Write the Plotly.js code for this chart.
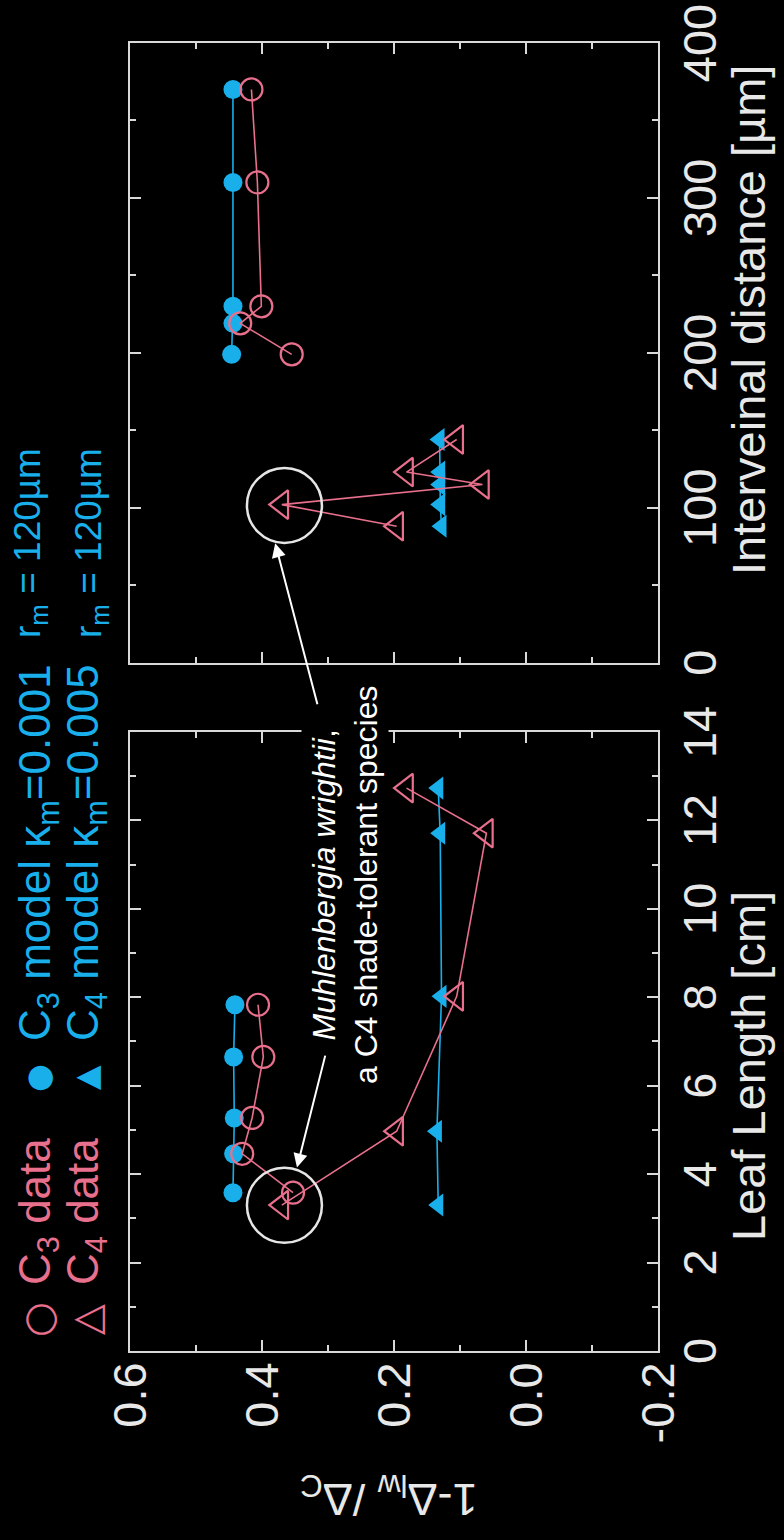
<!DOCTYPE html>
<html><head><meta charset="utf-8">
<script src="https://cdn.plot.ly/plotly-3.0.1.min.js"></script>
<style>
html,body{margin:0;padding:0;background:#000;width:784px;height:1540px;overflow:hidden;}
#wrap{position:absolute;left:0;top:0;width:1540px;height:784px;transform-origin:0 0;transform:translateY(1540px) rotate(-90deg);}
</style></head><body>
<div id="wrap"><div id="plot" style="width:1540px;height:784px"></div></div>
<script>
// ---- data ----
const leafLenC3      = [3.58, 4.46, 5.27, 6.65, 7.83];
const c3DataLeaf     = [0.353, 0.430, 0.415, 0.398, 0.406];
const c3ModelLeaf    = [0.444, 0.443, 0.442, 0.443, 0.441];
const leafLenC4      = [3.30, 4.97, 8.02, 11.71, 12.73];
const c4DataLeaf     = [0.370, 0.196, 0.105, 0.060, 0.181];
const c4ModelLeaf    = [0.133, 0.135, 0.128, 0.130, 0.133];

const intervC3       = [199, 219, 230, 310, 370];
const c3DataInterv   = [0.355, 0.433, 0.401, 0.407, 0.416];
const c3ModelInterv  = [0.446, 0.444, 0.444, 0.444, 0.444];
const intervC4       = [88, 102, 115, 123, 144];
const c4DataInterv   = [0.196, 0.370, 0.066, 0.181, 0.105];
const c4ModelInterv  = [0.128, 0.130, 0.130, 0.130, 0.131];

const yTickVals = [-0.2, 0.0, 0.2, 0.4, 0.6];
const yTickText = ['-0.2', '0.0', '0.2', '0.4', '0.6'];

const highlightLeaf   = [3.295, 0.366];   // Muhlenbergia wrightii (leaf length panel)
const highlightInterv = [101.5, 0.366];   // Muhlenbergia wrightii (interveinal panel)

const legendSymbols = ['○', '●', '△', '▲'];
const legendLabels  = ['C<sub>3</sub> data', 'C<sub>3</sub> model κ<sub>m</sub>=0.001',
                       'C<sub>4</sub> data', 'C<sub>4</sub> model κ<sub>m</sub>=0.005'];
const legendRm      = ['r<sub>m</sub> = 120µm', 'r<sub>m</sub> = 120µm'];

// ---- styles ----
const PINK = '#e8708c', BLUE = '#19afeb', FRAME = '#d9d9d9', TXT = '#e8e8e8';
const FONT = 'Liberation Sans, Arial, Helvetica, sans-serif';

function tr(x, y, xa, ya, kind, color) {
  const m = {
    c3d: {symbol: 'circle-open', size: 22, color: color, line: {width: 2.2, color: color}},
    c3m: {symbol: 'circle', size: 19, color: color},
    c4d: {symbol: 'triangle-up-open', size: 25, color: color, line: {width: 2.2, color: color}},
    c4m: {symbol: 'triangle-up', size: 20, color: color}
  }[kind];
  return {x: x, y: y, xaxis: xa, yaxis: ya, type: 'scatter', mode: 'lines+markers',
          line: {color: color, width: 1.6}, marker: m, showlegend: false, hoverinfo: 'skip'};
}

const data = [
  tr(leafLenC3, c3ModelLeaf, 'x', 'y', 'c3m', BLUE),
  tr(leafLenC4, c4ModelLeaf, 'x', 'y', 'c4m', BLUE),
  tr(leafLenC3, c3DataLeaf, 'x', 'y', 'c3d', PINK),
  tr(leafLenC4, c4DataLeaf, 'x', 'y', 'c4d', PINK),
  tr(intervC3, c3ModelInterv, 'x2', 'y2', 'c3m', BLUE),
  tr(intervC4, c4ModelInterv, 'x2', 'y2', 'c4m', BLUE),
  tr(intervC3, c3DataInterv, 'x2', 'y2', 'c3d', PINK),
  tr(intervC4, c4DataInterv, 'x2', 'y2', 'c4d', PINK)
];

const common = {
  showline: true, linecolor: FRAME, linewidth: 2, mirror: 'allticks',
  ticks: 'inside', ticklen: 11, tickwidth: 2, tickcolor: FRAME,
  showgrid: false, zeroline: false, automargin: false,
  tickfont: {family: FONT, size: 47, color: TXT}
};
function minor(dt) { return {dtick: dt, ticks: 'inside', ticklen: 6, tickwidth: 2, tickcolor: FRAME, showgrid: false}; }

// paper coordinate helpers for the fixed plot box (l=188.5, w=1308.8, t=130, h=528)
const PX = u => (u - 188.5) / 1308.8;
const PY = v => (658 - v) / 528;

const ann = [];
const legendRows = [38, 86];
const rmRows = [30, 91];
for (let i = 0; i < 4; i++) {
  const row = Math.floor(i / 2), col = i % 2;
  const col0 = col === 0;
  const color = col0 ? PINK : BLUE;
  ann.push({xref: 'paper', yref: 'paper', x: PX(col0 ? 220 : 462), y: PY(legendRows[row]),
            text: legendSymbols[i], showarrow: false, xanchor: 'center', yanchor: 'middle',
            font: {family: 'DejaVu Sans', size: col0 ? 40 : 32, color: color}});
  ann.push({xref: 'paper', yref: 'paper', x: PX(col0 ? 253 : 497), y: PY(legendRows[row]),
            text: legendLabels[i], showarrow: false, xanchor: 'left', yanchor: 'middle',
            font: {family: FONT, size: 44, color: color}});
}
for (let r = 0; r < 2; r++) {
  ann.push({xref: 'paper', yref: 'paper', x: PX(900), y: PY(rmRows[r]), text: legendRm[r],
            showarrow: false, xanchor: 'left', yanchor: 'middle',
            font: {family: FONT, size: 37, color: BLUE}});
}
// axis titles
ann.push({xref: 'paper', yref: 'paper', x: PX(474), y: PY(748), text: 'Leaf Length [cm]',
          showarrow: false, xanchor: 'center', yanchor: 'middle', font: {family: FONT, size: 47, color: TXT}});
ann.push({xref: 'paper', yref: 'paper', x: PX(1220), y: PY(748), text: 'Interveinal distance [µm]',
          showarrow: false, xanchor: 'center', yanchor: 'middle', font: {family: FONT, size: 47, color: TXT}});
ann.push({xref: 'paper', yref: 'paper', x: PX(42), y: PY(389), text: '1-Δ<sub>lw</sub> /Δ<sub>C</sub>',
          textangle: -90, showarrow: false, xanchor: 'center', yanchor: 'middle', font: {family: FONT, size: 45, color: TXT}});
// species note
ann.push({xref: 'paper', yref: 'paper', x: PX(655), y: PY(345),
          text: '<i>Muhlenbergia wrightii</i>,<br>a C4 shade-tolerant species', align: 'center',
          showarrow: false, xanchor: 'center', yanchor: 'middle', bgcolor: '#000', borderpad: 4,
          font: {family: FONT, size: 32, color: '#ffffff'}});
// arrows
ann.push({xref: 'x', yref: 'y', x: 4.147, y: 0.347, ax: 115, ay: 29, text: ' ', showarrow: true,
          arrowhead: 2, arrowsize: 1.4, arrowwidth: 2, arrowcolor: '#ffffff', standoff: 0});
ann.push({xref: 'x2', yref: 'y2', x: 77.0, y: 0.380, ax: -164, ay: 43, text: ' ', showarrow: true,
          arrowhead: 2, arrowsize: 1.4, arrowwidth: 2, arrowcolor: '#ffffff', standoff: 0});

function ring(xa, ya, c) {
  return {type: 'circle', xref: xa, yref: ya, xsizemode: 'pixel', ysizemode: 'pixel',
          xanchor: c[0], yanchor: c[1], x0: -37.5, x1: 37.5, y0: -37.5, y1: 37.5,
          line: {color: '#e6e6e6', width: 2.5}, layer: 'above'};
}

const layout = {
  width: 1540, height: 784,
  paper_bgcolor: '#000', plot_bgcolor: '#000',
  margin: {l: 188.5, r: 42.7, t: 130, b: 126, pad: 0},
  showlegend: false,
  font: {family: FONT, color: TXT},
  xaxis: Object.assign({}, common, {domain: [0, 0.4733], range: [0, 14], dtick: 2, tick0: 0, minor: minor(1), anchor: 'y'}),
  xaxis2: Object.assign({}, common, {domain: [0.5263, 1], range: [0, 400], dtick: 100, tick0: 0, minor: minor(50), anchor: 'y2'}),
  yaxis: Object.assign({}, common, {domain: [0, 1], range: [-0.2, 0.6], tickmode: 'array', tickvals: yTickVals, ticktext: yTickText, minor: minor(0.1), anchor: 'x'}),
  yaxis2: Object.assign({}, common, {domain: [0, 1], range: [-0.2, 0.6], tickmode: 'array', tickvals: yTickVals, ticktext: yTickText, minor: minor(0.1), anchor: 'x2', showticklabels: false}),
  shapes: [ring('x', 'y', highlightLeaf), ring('x2', 'y2', highlightInterv)],
  annotations: ann
};

Plotly.newPlot('plot', data, layout, {staticPlot: true, displayModeBar: false, responsive: false});
</script>
</body></html>
